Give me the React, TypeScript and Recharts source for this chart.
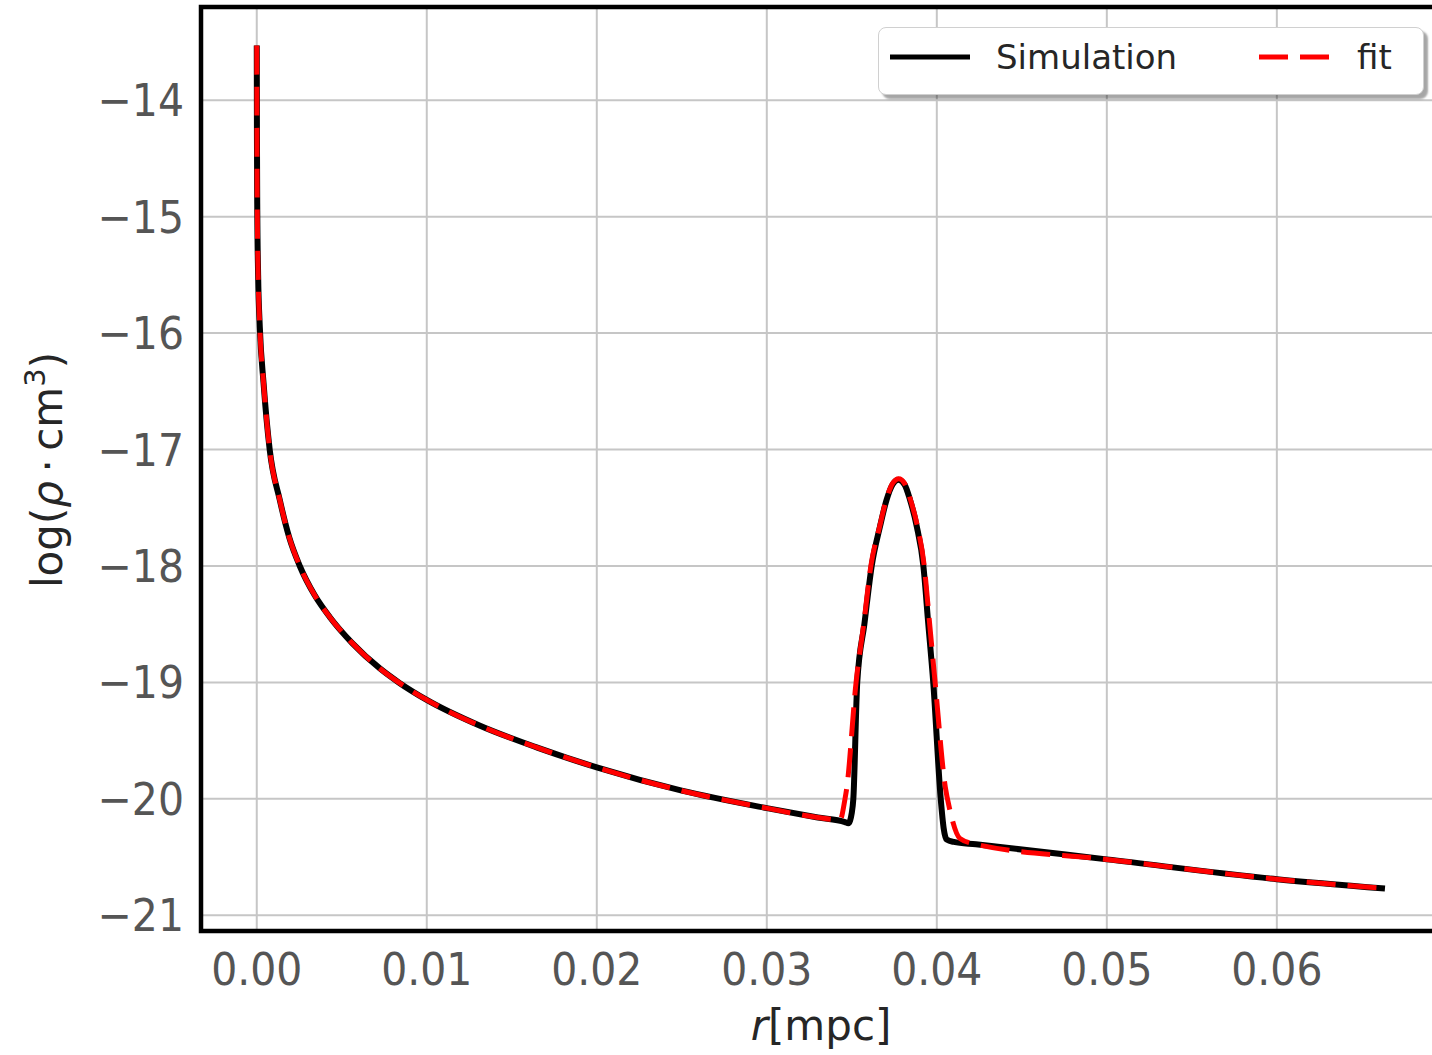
import React from 'react';
import { LineChart, Line, XAxis, YAxis, CartesianGrid } from 'recharts';

// radius in mpc, log density
const simR = [
  0.0, 0.00001, 0.00003, 0.00008, 0.00018, 0.0004, 0.00076, 0.00135, 0.0019, 0.00253,
  0.0034, 0.0043, 0.0056, 0.00724, 0.00835, 0.01, 0.0131, 0.0165, 0.02, 0.025,
  0.03, 0.033, 0.0346, 0.0348, 0.035, 0.03509, 0.03532, 0.03574, 0.03617,
  0.03666, 0.03705, 0.0374, 0.03774, 0.0381, 0.03842, 0.03882, 0.03921, 0.0395, 0.03979,
  0.04023, 0.0404, 0.04058, 0.041, 0.0423, 0.05, 0.06, 0.06636,
];
const simLog = [
  -13.53, -14.3, -14.95, -15.5, -15.95, -16.43, -17.0, -17.43, -17.75, -18.0,
  -18.25, -18.44, -18.66, -18.88, -19.0, -19.15, -19.37, -19.56, -19.73, -19.93,
  -20.08, -20.16, -20.2, -20.21, -20.12, -20.0, -19.0, -18.5, -18.0,
  -17.66, -17.43, -17.3, -17.26, -17.3, -17.43, -17.66, -18.0, -18.5, -19.0,
  -20.0, -20.25, -20.35, -20.37, -20.39, -20.52, -20.69, -20.77,
];

const fitR = [
  0.0, 0.00001, 0.00003, 0.00008, 0.00018, 0.0004, 0.00076, 0.00135, 0.0019, 0.00253,
  0.0034, 0.0043, 0.0056, 0.00724, 0.00835, 0.01, 0.0131, 0.0165, 0.02, 0.025,
  0.03, 0.033, 0.03431, 0.0346, 0.0347, 0.03525, 0.0357, 0.03612, 0.03664,
  0.03703, 0.0374, 0.03776, 0.0381, 0.03845, 0.03886, 0.03926, 0.03958, 0.0399, 0.0405,
  0.04076, 0.04136, 0.0423, 0.05, 0.06, 0.06636,
];
const fitLog = [
  -13.53, -14.3, -14.95, -15.5, -15.95, -16.43, -17.0, -17.43, -17.75, -18.0,
  -18.25, -18.44, -18.66, -18.88, -19.0, -19.15, -19.37, -19.56, -19.73, -19.93,
  -20.08, -20.16, -20.18, -20.0, -19.91, -19.0, -18.5, -18.0, -17.66,
  -17.43, -17.29, -17.25, -17.29, -17.43, -17.66, -18.0, -18.5, -19.0, -19.9,
  -20.09, -20.34, -20.39, -20.52, -20.69, -20.77,
];

const xTicks = [0, 0.01, 0.02, 0.03, 0.04, 0.05, 0.06];
const yTicks = [-21, -20, -19, -18, -17, -16, -15, -14];
const seriesNames = ['Simulation', 'fit'];

const simData = simR.map((r, i) => ({ r, v: simLog[i] }));
const fitData = fitR.map((r, i) => ({ r, v: fitLog[i] }));

const W = 1480;
const H = 1055;
const FONT = '"DejaVu Sans", sans-serif';
const TICK_COLOR = '#555555';
const TEXT_COLOR = '#262626';

// plot frame (pixels)
const PLOT_LEFT = 201;
const PLOT_TOP = 7;
const PLOT_BOTTOM = 931;

const XTick = (props: any) => {
  const { x, payload } = props;
  return (
    <g transform={`translate(${x},985) scale(1,1.1)`}>
      <text textAnchor="middle" fontFamily={FONT} fontSize={41} fill={TICK_COLOR}>
        {Number(payload.value).toFixed(2)}
      </text>
    </g>
  );
};

const YTick = (props: any) => {
  const { y, payload } = props;
  const v = Number(payload.value);
  const label = v < 0 ? `\u2212${Math.abs(v)}` : `${v}`;
  return (
    <g transform={`translate(184,${y + 16}) scale(1,1.1)`}>
      <text textAnchor="end" fontFamily={FONT} fontSize={41} fill={TICK_COLOR}>
        {label}
      </text>
    </g>
  );
};

const LegendBox = () => (
  <div
    style={{
      position: 'absolute',
      left: 878,
      top: 27,
      width: 544,
      height: 66,
      background: '#fff',
      border: '1px solid #d0d0d0',
      borderRadius: 8,
      boxShadow: '4px 4px 2px rgba(0,0,0,0.35)',
    }}
  >
    <svg width={544} height={66} style={{ position: 'absolute', left: 0, top: 0 }}>
      <line x1={11} x2={91} y1={29} y2={29} stroke="#000" strokeWidth={5} />
      <text x={117} y={41} fontFamily={FONT} fontSize={34} fill={TEXT_COLOR}>
        {seriesNames[0]}
      </text>
      <line x1={380} x2={452} y1={29} y2={29} stroke="#ff0000" strokeWidth={5} strokeDasharray="29 12" />
      <text x={478} y={41} fontFamily={FONT} fontSize={34} fill={TEXT_COLOR}>
        {seriesNames[1]}
      </text>
    </svg>
  </div>
);

export default function App() {
  return (
    <div style={{ position: 'absolute', left: 0, top: 0, width: 1432, height: H, overflow: 'hidden', background: '#fff' }}>
      <LineChart width={W} height={H} margin={{ top: PLOT_TOP, right: 0, left: 0, bottom: 0 }}>
        <CartesianGrid xAxisId="main" stroke="#c6c6c6" strokeWidth={2} />
        <XAxis
          xAxisId="main"
          type="number"
          dataKey="r"
          domain={[-0.00328, 0.07195]}
          allowDataOverflow
          ticks={xTicks}
          tick={<XTick />}
          tickLine={false}
          axisLine={false}
          height={H - PLOT_BOTTOM}
        />
        <YAxis
          type="number"
          domain={[-21.135, -13.199]}
          allowDataOverflow
          ticks={yTicks}
          tick={<YTick />}
          tickLine={false}
          axisLine={false}
          width={PLOT_LEFT}
        />
        <Line
          xAxisId="main"
          data={simData}
          dataKey="v"
          type="monotone"
          stroke="#000000"
          strokeWidth={6}
          dot={false}
          isAnimationActive={false}
        />
        <Line
          xAxisId="main"
          data={fitData}
          dataKey="v"
          type="monotone"
          stroke="#ff0000"
          strokeWidth={5}
          strokeDasharray="29 12"
          dot={false}
          isAnimationActive={false}
        />
      </LineChart>
      <LegendBox />
      <svg width={1432} height={H} style={{ position: 'absolute', left: 0, top: 0, pointerEvents: 'none' }}>
        <path
          d={`M1440,${PLOT_TOP} H${PLOT_LEFT} V${PLOT_BOTTOM} H1440`}
          fill="none"
          stroke="#000"
          strokeWidth={4.5}
        />
        <text
          transform="translate(62,470) rotate(-90)"
          textAnchor="middle"
          fontFamily={FONT}
          fontSize={42}
          fill={TEXT_COLOR}
        >
          log(<tspan fontStyle="italic">ρ</tspan>{'\u2009·\u2009'}cm<tspan fontSize={29} dy={-17}>3</tspan>
          <tspan dy={17}>)</tspan>
        </text>
        <text x={821} y={1040} textAnchor="middle" fontFamily={FONT} fontSize={42} fill={TEXT_COLOR}>
          <tspan fontStyle="italic">r</tspan>[mpc]
        </text>
      </svg>
    </div>
  );
}
